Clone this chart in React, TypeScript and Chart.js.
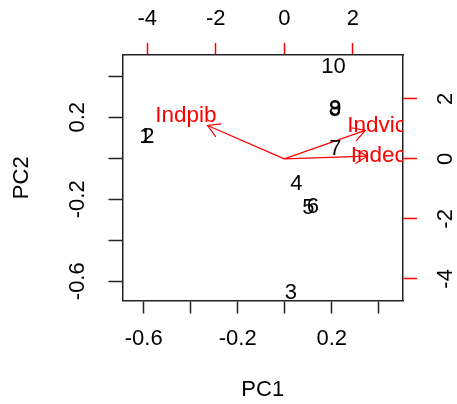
import React, { useEffect, useRef } from 'react';
import { Chart, registerables } from 'chart.js';

Chart.register(...registerables);

// Observation scores (PC1, PC2)
const obsLabels = ['1', '2', '3', '4', '5', '6', '7', '8', '9', '10'];
const pc1 = [-0.593, -0.58, 0.026, 0.049, 0.101, 0.12, 0.215, 0.213, 0.215, 0.207];
const pc2 = [0.102, 0.102, -0.657, -0.127, -0.244, -0.236, 0.044, 0.237, 0.239, 0.447];

// Variable loadings (arrows) on the top/right scale
const varNames = ['Indpib', 'Indvic', 'Indec'];
const arrowX = [-2.24, 2.36, 2.42];
const arrowY = [1.11, 0.95, 0.09];
const varLabelX = [-2.87, 2.69, 2.74];
const varLabelY = [1.45, 1.11, 0.11];

// Axis ticks
const pcTicks = [-0.6, -0.4, -0.2, 0, 0.2, 0.4];
const pcTickLabels = ['-0.6', '', '-0.2', '', '0.2', ''];
const loadTicks = [-4, -2, 0, 2];
const loadTickLabels = ['-4', '-2', '0', '2'];

const FONT = '"Liberation Sans", Arial, sans-serif';
const INK = '#000000';
const RED = '#ff0000';
const AXIS = '#222222';

const biplotText = {
  id: 'biplotText',
  afterDatasetsDraw(chart: any) {
    const { ctx, chartArea, scales } = chart;
    ctx.save();
    ctx.beginPath();
    ctx.rect(chartArea.left, chartArea.top, chartArea.right - chartArea.left, chartArea.bottom - chartArea.top);
    ctx.clip();
    // observation labels
    const meta0 = chart.getDatasetMeta(0);
    ctx.font = `22px ${FONT}`;
    ctx.fillStyle = INK;
    ctx.textAlign = 'center';
    ctx.textBaseline = 'middle';
    meta0.data.forEach((el: any, i: number) => {
      ctx.fillText(obsLabels[i], el.x, el.y);
    });
    // arrowheads
    for (let k = 0; k < varNames.length; k++) {
      const m = chart.getDatasetMeta(k + 1);
      const p0 = m.data[0];
      const p1 = m.data[1];
      const ang = Math.atan2(p1.y - p0.y, p1.x - p0.x);
      const L = 14;
      const a = Math.PI / 6;
      ctx.strokeStyle = RED;
      ctx.lineWidth = 1.2;
      ctx.beginPath();
      ctx.moveTo(p1.x - L * Math.cos(ang - a), p1.y - L * Math.sin(ang - a));
      ctx.lineTo(p1.x, p1.y);
      ctx.lineTo(p1.x - L * Math.cos(ang + a), p1.y - L * Math.sin(ang + a));
      ctx.stroke();
    }
    // variable labels
    ctx.font = `22.5px ${FONT}`;
    ctx.fillStyle = RED;
    varNames.forEach((n, k) => {
      ctx.fillText(n, scales.x2.getPixelForValue(varLabelX[k]), scales.y2.getPixelForValue(varLabelY[k]));
    });
    ctx.restore();
  },
};

export default function App() {
  const ref = useRef<HTMLCanvasElement | null>(null);

  useEffect(() => {
    if (!ref.current) return;
    const tickFont = { family: FONT, size: 22 };
    const datasets: any[] = [
      {
        label: 'obs',
        data: pc1.map((x, i) => ({ x, y: pc2[i] })),
        xAxisID: 'x',
        yAxisID: 'y',
        pointRadius: 0,
        showLine: false,
      },
      ...varNames.map((n, k) => ({
        label: n,
        data: [
          { x: 0, y: 0 },
          { x: arrowX[k], y: arrowY[k] },
        ],
        xAxisID: 'x2',
        yAxisID: 'y2',
        showLine: true,
        borderColor: RED,
        borderWidth: 1.2,
        pointRadius: 0,
      })),
    ];
    const chart = new Chart(ref.current, {
      type: 'scatter',
      data: { datasets },
      options: {
        animation: false,
        responsive: false,
        devicePixelRatio: 1,
        layout: { padding: 0 },
        plugins: { legend: { display: false }, tooltip: { enabled: false } },
        scales: {
          x: {
            type: 'linear',
            position: 'bottom',
            min: -0.69,
            max: 0.503,
            afterBuildTicks: (s: any) => {
              s.ticks = pcTicks.map((v) => ({ value: v }));
            },
            ticks: {
              callback: (_v: any, i: number) => pcTickLabels[i],
              font: tickFont,
              color: INK,
              padding: 12.3,
              minRotation: 0,
              maxRotation: 0,
              autoSkip: false,
            },
            grid: { display: true, drawOnChartArea: false, drawTicks: true, tickLength: 13, tickColor: AXIS, tickWidth: 1.5 },
            border: { display: true, color: AXIS, width: 1.5 },
            title: { display: true, text: 'PC1', font: tickFont, color: INK, padding: { top: 0, bottom: 1.1 } },
            afterFit: (s: any) => {
              s.height = 103.5;
            },
          },
          y: {
            type: 'linear',
            position: 'left',
            min: -0.694,
            max: 0.504,
            afterBuildTicks: (s: any) => {
              s.ticks = pcTicks.map((v) => ({ value: v }));
            },
            ticks: {
              callback: (_v: any, i: number) => pcTickLabels[i],
              font: tickFont,
              color: INK,
              padding: 11.5,
              minRotation: 90,
              maxRotation: 90,
              crossAlign: 'center',
              autoSkip: false,
            },
            grid: { display: true, drawOnChartArea: false, drawTicks: true, tickLength: 14, tickColor: AXIS, tickWidth: 1.5 },
            border: { display: true, color: AXIS, width: 1.5 },
            title: { display: true, text: 'PC2', font: tickFont, color: INK, padding: { top: 8.8, bottom: 0 } },
            afterFit: (s: any) => {
              s.width = 122.5;
            },
          },
          x2: {
            type: 'linear',
            position: 'top',
            min: -4.72,
            max: 3.46,
            afterBuildTicks: (s: any) => {
              s.ticks = loadTicks.map((v) => ({ value: v }));
            },
            ticks: {
              callback: (_v: any, i: number) => loadTickLabels[i],
              font: tickFont,
              color: INK,
              padding: 10.8,
              minRotation: 0,
              maxRotation: 0,
              autoSkip: false,
            },
            grid: { display: true, drawOnChartArea: false, drawTicks: true, tickLength: 12, tickColor: RED, tickWidth: 1.5 },
            border: { display: true, color: AXIS, width: 1.5 },
            afterFit: (s: any) => {
              s.height = 55;
            },
          },
          y2: {
            type: 'linear',
            position: 'right',
            min: -4.72,
            max: 3.46,
            afterBuildTicks: (s: any) => {
              s.ticks = loadTicks.map((v) => ({ value: v }));
            },
            ticks: {
              callback: (_v: any, i: number) => loadTickLabels[i],
              font: tickFont,
              color: INK,
              padding: 19.2,
              minRotation: 90,
              maxRotation: 90,
              crossAlign: 'center',
              autoSkip: false,
            },
            grid: { display: true, drawOnChartArea: false, drawTicks: true, tickLength: 14, tickColor: RED, tickWidth: 1.5 },
            border: { display: true, color: AXIS, width: 1.5 },
            afterFit: (s: any) => {
              s.width = 54;
            },
          },
        },
      } as any,
      plugins: [biplotText],
    });
    return () => chart.destroy();
  }, []);

  return (
    <div style={{ position: 'absolute', left: 0, top: 0, width: 457, height: 404, background: '#fff' }}>
      <canvas ref={ref} width={457} height={404} style={{ display: 'block' }} />
    </div>
  );
}
